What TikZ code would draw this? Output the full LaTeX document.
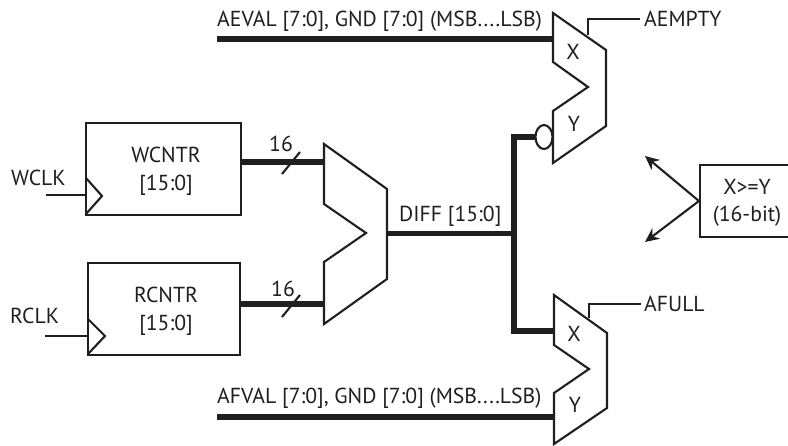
\documentclass[tikz,border=0pt]{standalone}
\usepackage{fontspec}
\usetikzlibrary{arrows.meta}
\setmainfont{PT Sans}
\begin{document}
\begin{tikzpicture}[x=1pt,y=-1pt,
  thin line/.style={draw=black!88,line width=2.1pt,line join=miter},
  bus/.style={draw=black!88,line width=5.6pt},
  lbl/.style={inner sep=0pt,font=\fontsize{21.7}{24}\selectfont,text=black!88},
  blockbox/.style={thin line,fill=white,inner sep=0pt},
  tipped/.style={thin line,-{Stealth[length=14pt,width=13pt]}}]
\useasboundingbox (0,0) rectangle (788,445);
% buses
\coordinate (wo) at (241,162); \coordinate (mi1) at (324,162);
\coordinate (ro) at (240,304); \coordinate (mi2) at (324,304);
\coordinate (mo) at (387,233.5); \coordinate (j) at (514,233.5);
\coordinate (ax) at (553,39); \coordinate (as) at (217,39);
\coordinate (fx) at (554,417); \coordinate (fs) at (217,417);
\coordinate (bub) at (535,137); \coordinate (bx) at (554,331);
\draw[bus] (wo) -- (mi1);
\draw[bus] (ro) -- (mi2);
\draw[bus] (mo) -- (j);
\draw[bus] (as) -- (ax);
\draw[bus] (fs) -- (fx);
\draw[bus,line join=miter] (bub) -| (514,331) -- (bx);
% counters
\node[blockbox,minimum width=155pt,minimum height=92pt] (w) at (163.5,169) {};
\node[blockbox,minimum width=152pt,minimum height=92pt] (r) at (164,309) {};
\node[lbl] (wt) at (166,155) {WCNTR};
\node[lbl] (wb) at (166,185) {[15:0]};
\node[lbl] (rt) at (166,295) {RCNTR};
\node[lbl] (rb) at (166,325) {[15:0]};
\draw[thin line] (86,178) -- (102,196) -- (86,214);
\draw[thin line] (88,319) -- (105,336) -- (88,354);
\coordinate (wc) at (46,195); \coordinate (wc2) at (86,195);
\coordinate (rc) at (45,336); \coordinate (rc2) at (88,336);
\draw[thin line] (wc) -- (wc2);
\draw[thin line] (rc) -- (rc2);
\node[lbl,anchor=west] (wl) at (11,178) {WCLK};
\node[lbl,anchor=west] (rl) at (10,316) {RCLK};
% slashes
\draw[thin line] (282,174) -- (300,152);
\draw[thin line] (282,317) -- (300,295);
\node[lbl] (s1) at (281,144) {16};
\node[lbl] (s2) at (283,289) {16};
% mux
\draw[thin line,fill=white] (324,144) -- (387,189) -- (387,279) -- (324,324) -- (324,262) -- (366,233) -- (324,204) -- cycle;
\node[lbl,anchor=west] (dl) at (399,216) {DIFF [15:0]};
% comparators
\draw[thin line,fill=white] (553,13) -- (606,50) -- (606,126) -- (553,163) -- (553,111) -- (588,87) -- (553,62) -- cycle;
\draw[thin line,fill=white] (554,295) -- (607,333) -- (607,408) -- (554,444) -- (554,393) -- (589,369) -- (554,345) -- cycle;
\draw[thin line,fill=white] (544,137) ellipse (8.5pt and 12pt);
\node[lbl] (xa) at (573,52) {X};
\node[lbl] (ya) at (574,124) {Y};
\node[lbl] (xf) at (574,334) {X};
\node[lbl] (yf) at (575,405) {Y};
\coordinate (ae) at (640,19); \coordinate (af) at (641,304);
\draw[thin line] (588,35) |- (ae);
\draw[thin line] (589,318) |- (af);
\node[lbl,anchor=west] (ael) at (644,19) {AEMPTY};
\node[lbl,anchor=west] (afl) at (644,304) {AFULL};
\node[lbl,anchor=west] (at) at (217,21) {AEVAL [7:0], GND [7:0] (MSB....LSB)};
\node[lbl,anchor=west] (ft) at (217,398) {AFVAL [7:0], GND [7:0] (MSB....LSB)};
% note: its right side runs off the page, as in the reference
\node[blockbox,minimum width=110pt,minimum height=72pt] (n) at (755,201) {};
\node[lbl] (n1) at (747,187) {X>=Y};
\node[lbl] (n2) at (747,216) {(16-bit)};
\coordinate (up) at (645,156); \coordinate (dn) at (645,242);
\draw[tipped] (n.west) -- (up);
\draw[tipped] (n.west) -- (dn);
\end{tikzpicture}
\end{document}
